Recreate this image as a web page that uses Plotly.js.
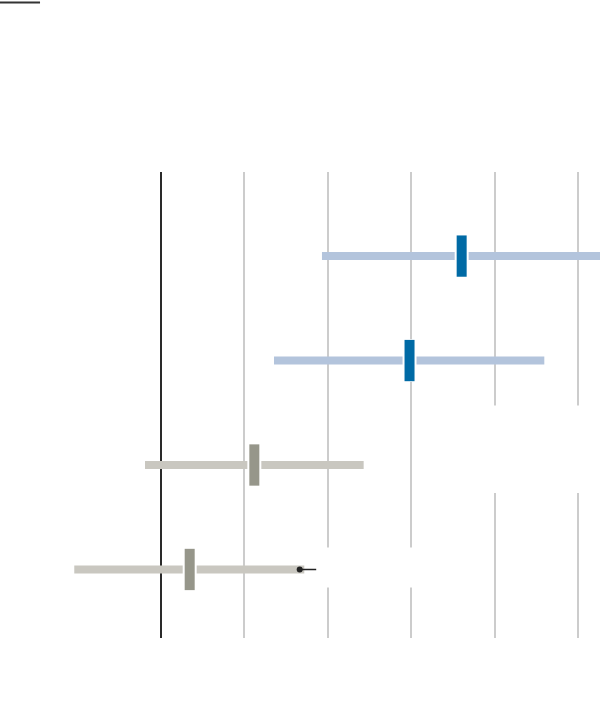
<!DOCTYPE html>
<html>
<head>
<meta charset="utf-8">
<script src="https://cdn.plot.ly/plotly-3.0.1.min.js"></script>
<style>html,body{margin:0;padding:0;background:#fff}#chart{width:600px;height:724px}</style>
</head>
<body>
<div id="chart"></div>
<script>
// Data (one unit = one gridline step)
var rows    = [0, 1, 2, 3];
var lows    = [1.93, 1.355, -0.192, -1.04];
var highs   = [5.40, 4.596, 2.43, 1.718];
var centers = [3.605, 2.98, 1.119, 0.344];
var gridValues = [0, 1, 2, 3, 4, 5];
var barColors    = ['#b3c4dc', '#b3c4dc', '#c9c7c0', '#c9c7c0'];
var markerColors = ['#006aa5', '#006aa5', '#96968a', '#96968a'];

var traces = [];
rows.forEach(function (r, i) {
  traces.push({
    type: 'scatter', mode: 'lines',
    x: [lows[i], highs[i]], y: [r, r],
    line: {color: barColors[i], width: 8},
    hoverinfo: 'skip', showlegend: false
  });
});
// white backing for the markers (gap in the bar)
traces.push({
  type: 'scatter', mode: 'markers',
  x: centers, y: rows,
  marker: {symbol: 'line-ns', size: 30.5, line: {width: 14, color: '#ffffff'}},
  hoverinfo: 'skip', showlegend: false
});
traces.push({
  type: 'scatter', mode: 'markers',
  x: centers, y: rows,
  marker: {symbol: 'line-ns', size: 29.5, color: markerColors, line: {width: 10, color: markerColors}},
  hoverinfo: 'skip', showlegend: false
});

var layout = {
  width: 600, height: 724,
  margin: {l: 0, r: 0, t: 172, b: 86},
  paper_bgcolor: '#ffffff', plot_bgcolor: '#ffffff',
  showlegend: false,
  xaxis: {
    range: [-1.9305, 5.2638],
    tickmode: 'array', tickvals: gridValues,
    showgrid: true, gridcolor: '#cccccc', gridwidth: 2,
    zeroline: true, zerolinecolor: '#2a2a2a', zerolinewidth: 2,
    showticklabels: false, ticks: '', showline: false, fixedrange: true
  },
  yaxis: {
    range: [3.656, -0.805],
    showgrid: false, zeroline: false,
    showticklabels: false, ticks: '', showline: false, fixedrange: true
  },
  shapes: [
    {type: 'rect', xref: 'paper', yref: 'paper', x0: 0.7167, x1: 1.0, y0: 0.3112, y1: 0.4989,
     fillcolor: '#ffffff', line: {width: 0}, layer: 'above'},
    {type: 'rect', xref: 'paper', yref: 'paper', x0: 0.53, x1: 0.8, y0: 0.1084, y1: 0.1942,
     fillcolor: '#ffffff', line: {width: 0}, layer: 'above'},
    {type: 'line', xref: 'paper', yref: 'paper', x0: 0, x1: 0.0667, y0: 1.3637, y1: 1.3637,
     line: {color: '#333333', width: 2}}
  ],
  annotations: [
    {x: highs[3] - 0.055, y: rows[3], xref: 'x', yref: 'y', text: '',
     showarrow: true, ax: 18, ay: 0, arrowhead: 6, arrowsize: 1, arrowwidth: 1.5,
     arrowcolor: '#222222', standoff: 0}
  ]
};

Plotly.newPlot('chart', traces, layout, {displayModeBar: false, staticPlot: true});
</script>
</body>
</html>
